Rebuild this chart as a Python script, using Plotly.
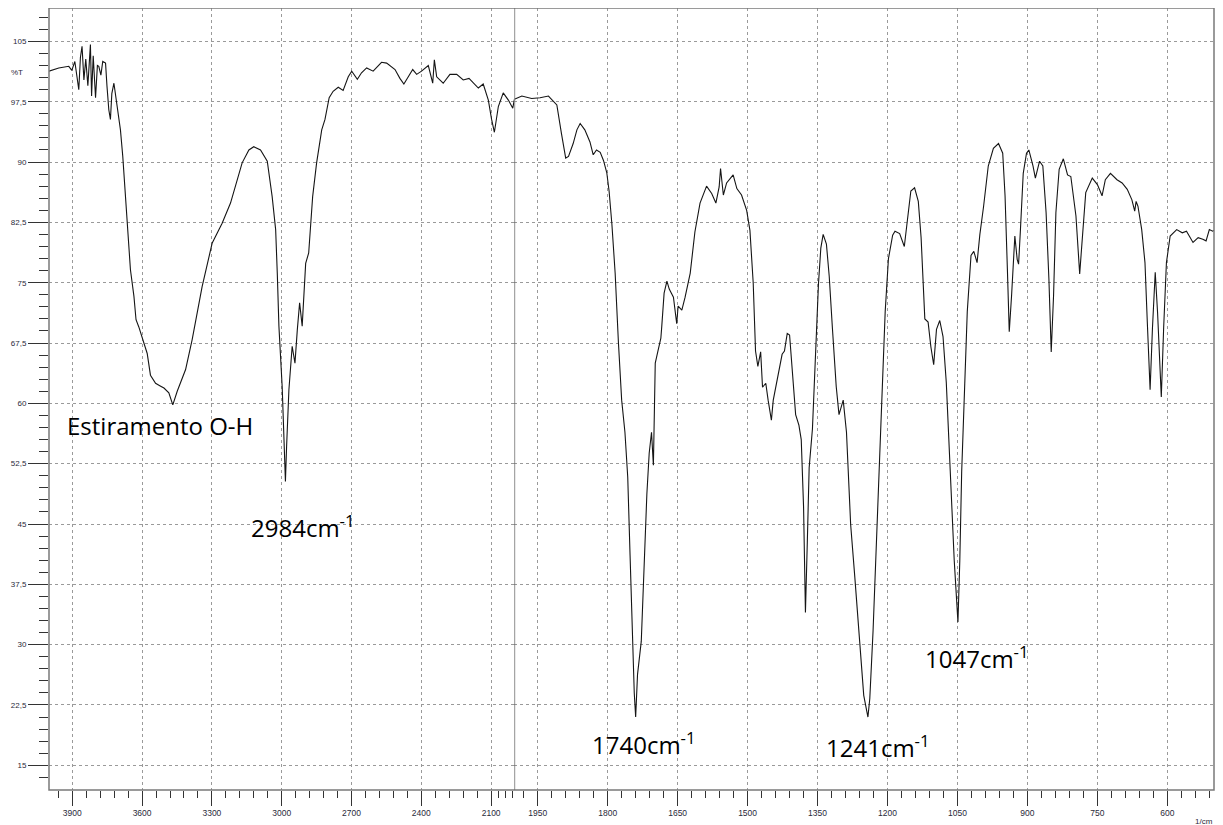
import numpy as np
import plotly.graph_objects as go
from plotly.subplots import make_subplots

# ---- data (wavenumber in 1/cm, %T) ----
wavenumber = [
    4000, 3958, 3915, 3902, 3889, 3880, 3872, 3865, 3858, 3850, 3842, 3833, 3822, 3817, 3810,
    3800, 3792, 3786, 3777, 3769, 3757, 3751, 3743, 3736, 3730, 3721, 3715, 3707, 3693, 3683,
    3671, 3660, 3650, 3635, 3626, 3614, 3600, 3578, 3564, 3542, 3524, 3506, 3485, 3468, 3449,
    3413, 3385, 3342, 3299, 3256, 3220, 3170, 3141, 3120, 3091, 3062, 3041, 3026, 3019, 3012,
    2998, 2990, 2984, 2979, 2969, 2955, 2943, 2933, 2923, 2912, 2897, 2884, 2867, 2850, 2828,
    2814, 2796, 2779, 2757, 2736, 2714, 2699, 2675, 2657, 2635, 2607, 2571, 2549, 2513, 2492,
    2475, 2456, 2437, 2420, 2399, 2370, 2351, 2344, 2334, 2306, 2277, 2248, 2220, 2195, 2177,
    2155, 2134, 2112, 2098, 2086, 2069, 2048, 2026, 2007, 2000,
    1984, 1963, 1945, 1927, 1917, 1909, 1899, 1890, 1884, 1874, 1866, 1859, 1849, 1838, 1831,
    1824, 1816, 1809, 1802, 1797, 1791, 1784, 1777, 1770, 1763, 1757, 1752, 1747, 1743, 1740,
    1736, 1728, 1721, 1716, 1711, 1706, 1702, 1700, 1698, 1693, 1686, 1684, 1679, 1673, 1668,
    1659, 1652, 1649, 1641, 1634, 1623, 1613, 1602, 1588, 1577, 1568, 1561, 1558, 1552, 1545,
    1531, 1523, 1513, 1502, 1495, 1488, 1483, 1478, 1472, 1468, 1461, 1456, 1449, 1445, 1438,
    1433, 1426, 1421, 1415, 1410, 1403, 1397, 1390, 1385, 1380, 1376, 1372, 1368, 1361, 1355,
    1348, 1343, 1338, 1331, 1325, 1318, 1310, 1304, 1298, 1295, 1288, 1279, 1270, 1260, 1251,
    1242, 1238, 1231, 1222, 1213, 1205, 1198, 1189, 1184, 1174, 1164, 1157, 1150, 1142, 1134,
    1128, 1120, 1113, 1107, 1101, 1095, 1088, 1081, 1074, 1065, 1057, 1049, 1045, 1041, 1035,
    1029, 1021, 1015, 1008, 1002, 994, 984, 973, 962, 953, 948, 943, 939, 934, 927,
    922, 919, 915, 909, 902, 897, 888, 883, 874, 867, 860, 854, 849, 844, 839,
    832, 823, 814, 807, 796, 788, 782, 775, 761, 750, 740, 733, 722, 708, 697,
    686, 676, 670, 667, 663, 655, 648, 643, 637, 632, 626, 621, 613, 608, 602,
    594, 580, 568, 559, 545, 534, 524, 517, 510, 503, 500,
]
transmittance = [
    101.3, 101.7, 101.9, 101.4, 102.5, 100.5, 99.0, 103.0, 104.4, 100.2, 102.8, 99.5, 104.6, 98.2, 103.2,
    98.0, 102.0, 101.9, 100.8, 102.5, 102.3, 99.5, 96.5, 95.3, 98.5, 99.8, 98.6, 96.5, 94.0, 90.7,
    85.7, 81.6, 76.6, 73.3, 70.4, 69.5, 68.3, 66.2, 63.5, 62.5, 62.2, 61.9, 61.3, 59.8, 61.5,
    64.2, 67.9, 74.5, 79.9, 82.4, 84.9, 89.9, 91.5, 91.9, 91.5, 90.1, 85.7, 81.6, 76.2, 69.6,
    62.1, 54.6, 50.3, 54.6, 61.7, 67.1, 65.0, 69.1, 72.5, 69.6, 77.4, 78.7, 85.7, 89.9, 94.0,
    95.3, 98.0, 98.8, 99.3, 98.9, 100.6, 101.3, 100.3, 101.1, 101.7, 101.3, 102.4, 102.3, 101.5, 100.4,
    99.7, 100.6, 101.5, 100.9, 101.3, 102.0, 99.8, 102.7, 100.6, 99.8, 100.9, 100.9, 100.2, 100.4, 99.8,
    99.2, 99.7, 97.7, 95.3, 93.7, 96.9, 98.6, 97.7, 96.7, 97.8,
    98.2, 97.9, 98.0, 98.2, 97.6, 97.1, 93.5, 90.5, 90.7, 92.3, 94.0, 94.8, 94.0, 92.5, 90.9,
    91.5, 91.2, 90.2, 88.7, 86.4, 82.3, 76.2, 67.6, 60.4, 56.4, 50.8, 41.1, 30.9, 24.0, 21.0,
    26.3, 30.4, 41.6, 48.7, 53.8, 56.4, 52.3, 59.9, 65.0, 66.3, 68.1, 69.6, 73.7, 75.2, 74.2,
    73.2, 69.9, 72.1, 71.6, 73.2, 76.2, 81.3, 84.9, 87.0, 86.1, 84.9, 86.9, 89.2, 85.9, 87.4,
    88.4, 86.7, 85.9, 84.0, 81.5, 75.0, 66.5, 64.6, 66.4, 62.0, 62.5, 60.4, 57.9, 60.4, 62.6,
    64.3, 66.1, 66.5, 68.7, 68.5, 63.4, 58.6, 57.3, 55.5, 47.1, 34.0, 42.7, 52.0, 56.8, 64.8,
    74.9, 79.3, 81.0, 79.8, 75.8, 69.2, 62.1, 58.6, 59.9, 60.4, 56.4, 44.9, 38.3, 30.8, 23.7,
    21.0, 23.3, 31.7, 44.9, 58.2, 71.4, 78.0, 80.9, 81.4, 81.1, 79.5, 83.3, 86.4, 86.8, 85.1,
    80.6, 70.5, 70.1, 67.0, 64.8, 69.2, 70.3, 68.3, 62.6, 51.5, 40.5, 32.8, 40.5, 51.5, 62.6,
    71.4, 78.4, 78.9, 77.5, 81.0, 84.5, 89.5, 91.7, 92.3, 91.1, 85.8, 76.7, 68.9, 73.4, 80.8,
    77.9, 77.3, 81.6, 88.6, 91.1, 91.5, 89.5, 88.0, 90.1, 89.5, 83.7, 75.5, 66.4, 73.4, 83.7,
    89.1, 90.4, 88.4, 88.2, 83.3, 76.1, 80.4, 86.2, 88.0, 87.2, 85.8, 87.8, 88.6, 87.8, 87.4,
    86.6, 85.3, 83.9, 85.1, 84.5, 81.6, 77.5, 70.1, 61.7, 69.3, 76.3, 71.3, 60.8, 69.3, 77.5,
    80.8, 81.6, 81.2, 81.4, 80.0, 80.6, 80.4, 80.2, 81.6, 81.4, 81.5,
]

# axis break: the high-wavenumber part (4000-2000) is drawn at half scale
break_wavenumber = 2000
x_ticks_high = [3900, 3600, 3300, 3000, 2700, 2400, 2100]
x_minor_high = [3960, 3840, 3780, 3720, 3660, 3540, 3480, 3420, 3360, 3240, 3180, 3120,
                3060, 2940, 2880, 2820, 2760, 2640, 2580, 2520, 2460, 2340, 2280, 2220,
                2160, 2070, 2040, 2010]
x_ticks_low = [1950, 1800, 1650, 1500, 1350, 1200, 1050, 900, 750, 600]
x_minor_low = [1980, 1920, 1890, 1860, 1830, 1770, 1740, 1710, 1680, 1620, 1590, 1560,
               1530, 1470, 1440, 1410, 1380, 1320, 1290, 1260, 1230, 1170, 1140, 1110,
               1080, 1020, 990, 960, 930, 870, 840, 810, 780, 720, 690, 660, 630, 570,
               540, 510]
y_ticks = [15, 22.5, 30, 37.5, 45, 52.5, 60, 67.5, 75, 82.5, 90, 97.5, 105]
y_tick_text = ["15", "22,5", "30", "37,5", "45", "52,5", "60", "67,5", "75", "82,5",
               "90", "97,5", "105"]
y_minor = [13.5 + 1.5 * i for i in range(64)]

peak_labels = ["2984cm<sup>-1</sup>", "1740cm<sup>-1</sup>", "1241cm<sup>-1</sup>",
               "1047cm<sup>-1</sup>"]

w = np.array(wavenumber, dtype=float)
t = np.array(transmittance, dtype=float)
hi = w >= break_wavenumber
lo = w <= break_wavenumber

fig = make_subplots(rows=1, cols=2, shared_yaxes=True,
                    column_widths=[465.4, 699.6], horizontal_spacing=0)

line_style = dict(color="#151515", width=1.1)
fig.add_trace(go.Scatter(x=w[hi], y=t[hi], mode="lines", line=line_style,
                         hoverinfo="x+y"), row=1, col=1)
fig.add_trace(go.Scatter(x=w[lo], y=t[lo], mode="lines", line=line_style,
                         hoverinfo="x+y"), row=1, col=2)

tick_font = dict(family="Liberation Sans, Arial, sans-serif", size=8.5, color="#2a2a3a")
grid_style = dict(showgrid=True, gridcolor="#9a9a9a", gridwidth=1, griddash="3px,3px")

x_common = dict(showline=False, zeroline=False, ticks="outside", ticklen=15,
                tickwidth=1, tickcolor="#333333", tickfont=tick_font, tickmode="array",
                automargin=False, **grid_style)

fig.update_xaxes(range=[4000, break_wavenumber], tickvals=x_ticks_high,
                 minor=dict(tickmode="array", tickvals=x_minor_high, ticks="outside",
                            ticklen=7, tickcolor="#333333", tickwidth=1, showgrid=False),
                 **x_common, row=1, col=1)
fig.update_xaxes(range=[break_wavenumber, 500], tickvals=x_ticks_low,
                 minor=dict(tickmode="array", tickvals=x_minor_low, ticks="outside",
                            ticklen=7, tickcolor="#333333", tickwidth=1, showgrid=False),
                 **x_common, row=1, col=2)

fig.update_yaxes(range=[11.93, 109.15], tickmode="array", tickvals=y_ticks,
                 ticktext=y_tick_text, ticks="outside", ticklen=20, tickwidth=1,
                 tickcolor="#333333", tickfont=dict(tick_font, size=8),
                 showline=False, zeroline=False, automargin=False,
                 minor=dict(tickmode="array", tickvals=y_minor, ticks="outside",
                            ticklen=9, tickcolor="#333333", tickwidth=1, showgrid=False),
                 **grid_style, row=1, col=1)
fig.update_yaxes(range=[11.93, 109.15], tickmode="array", tickvals=y_ticks,
                 showticklabels=False, ticks="", showline=False, zeroline=False,
                 automargin=False, **grid_style, row=1, col=2)

# frame and the axis-break line
fig.add_shape(type="rect", xref="paper", yref="paper", x0=0, x1=1, y0=0, y1=1,
              line=dict(color="#7a7a7a", width=1.5), layer="above")
fig.add_shape(type="line", xref="x2", yref="paper", x0=break_wavenumber,
              x1=break_wavenumber, y0=0, y1=1,
              line=dict(color="#6a6a6a", width=1.5), layer="above")

label_font = dict(family="Open Sans, Noto Sans, sans-serif", size=24, color="#000000")
fig.add_annotation(text="Estiramento O-H", xref="x", yref="y", x=3524, y=57.26,
                   xanchor="center", yanchor="middle", showarrow=False, font=label_font)
fig.add_annotation(text=peak_labels[0], xref="x", yref="y", x=3141, y=44.64,
                   xanchor="left", yanchor="middle", showarrow=False, font=label_font)
fig.add_annotation(text=peak_labels[1], xref="x2", yref="y", x=1838, y=17.65,
                   xanchor="left", yanchor="middle", showarrow=False, font=label_font)
fig.add_annotation(text=peak_labels[2], xref="x2", yref="y", x=1336, y=17.28,
                   xanchor="left", yanchor="middle", showarrow=False, font=label_font)
fig.add_annotation(text=peak_labels[3], xref="x2", yref="y", x=1124, y=28.4,
                   xanchor="left", yanchor="middle", showarrow=False, font=label_font)

fig.add_annotation(text="%T", xref="paper", yref="y", x=-0.0206, y=101.17,
                   xanchor="right", yanchor="middle", showarrow=False,
                   font=dict(tick_font, size=8))
fig.add_annotation(text="1/cm", xref="paper", yref="paper", x=1.0009, y=-0.0397,
                   xanchor="right", yanchor="middle", showarrow=False,
                   font=dict(tick_font, size=8))

# the page adds an 8px body margin, so the figure itself is offset by that amount
fig.update_layout(width=1215, height=817, showlegend=False,
                  margin=dict(l=41, r=9, t=0, b=35, autoexpand=False),
                  paper_bgcolor="white", plot_bgcolor="white")

fig.write_html("out.html")
